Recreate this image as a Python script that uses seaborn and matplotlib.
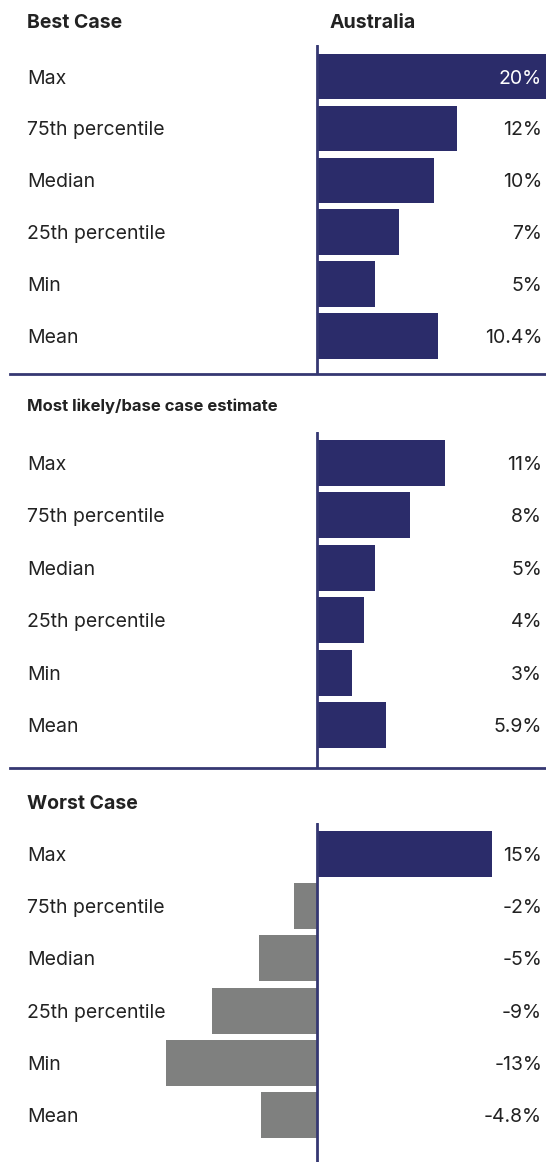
import matplotlib
matplotlib.use('Agg')
import matplotlib.pyplot as plt
import seaborn as sns
import pandas as pd

# Data
stats = ['Max', '75th percentile', 'Median', '25th percentile', 'Min', 'Mean']
best_case = [20, 12, 10, 7, 5, 10.4]
best_labels = ['20%', '12%', '10%', '7%', '5%', '10.4%']
base_case = [11, 8, 5, 4, 3, 5.9]
base_labels = ['11%', '8%', '5%', '4%', '3%', '5.9%']
worst_case = [15, -2, -5, -9, -13, -4.8]
worst_labels = ['15%', '-2%', '-5%', '-9%', '-13%', '-4.8%']

NAVY = '#2b2c6a'
GREY = '#7f807f'
TEXT = '#222222'

sns.set_style('white')
plt.rcParams['font.family'] = ['Inter', 'DejaVu Sans']

W, H = 546, 1162
fig = plt.figure(figsize=(W / 100, H / 100), dpi=100)

# pixel scale: one percentage point ~ 11.65 px, zero line at x=317
px_per_pct = 11.65
ax_left = 10
xmin = -(317 - ax_left) / px_per_pct
xmax = (W - 317) / px_per_pct

panels = [
    # values, labels, top px, bottom px, ylim, separator below
    (best_case, best_labels, 45, 374, (5.73, -0.607), True),
    (base_case, base_labels, 432, 768, (5.82, -0.59), True),
    (worst_case, worst_labels, 823, 1162, (5.9, -0.59), False),
]

for vals, labels, top, bottom, ylim, sep in panels:
    ax = fig.add_axes([ax_left / W, 1 - bottom / H, (W - ax_left) / W, (bottom - top) / H])
    df = pd.DataFrame({'stat': stats, 'value': vals})
    colors = [NAVY if v >= 0 else GREY for v in vals]
    sns.barplot(data=df, y='stat', x='value', hue='stat', palette=colors,
                orient='h', width=0.88, legend=False, ax=ax, saturation=1,
                linewidth=0)
    ax.set_xlim(xmin, xmax)
    ax.set_ylim(*ylim)
    ax.axvline(0, color='#353872', lw=2, zorder=5)
    for s in ['top', 'left', 'right']:
        ax.spines[s].set_visible(False)
    if sep:
        ax.spines['bottom'].set_color('#353872')
        ax.spines['bottom'].set_linewidth(2)
    else:
        ax.spines['bottom'].set_visible(False)
    ax.set_xticks([])
    ax.set_yticks([])
    ax.set_xlabel('')
    ax.set_ylabel('')
    trans = ax.get_yaxis_transform()
    for i, (name, lab, v) in enumerate(zip(stats, labels, vals)):
        ax.text((27 - ax_left) / (W - ax_left), i, name, transform=trans,
                ha='left', va='center_baseline', fontsize=14, color=TEXT)
        col = 'white' if v >= 19 else TEXT
        ax.text((542 - ax_left) / (W - ax_left), i, lab, transform=trans,
                ha='right', va='center_baseline', fontsize=14, color=col, zorder=6)

fig.text(27 / W, 1 - 21 / H, 'Best Case', ha='left', va='center_baseline',
         fontsize=14, fontweight='bold', color=TEXT)
fig.text(330 / W, 1 - 21 / H, 'Australia', ha='left', va='center_baseline',
         fontsize=14, fontweight='bold', color=TEXT)
fig.text(27 / W, 1 - 405 / H, 'Most likely/base case estimate', ha='left',
         va='center_baseline', fontsize=12, fontweight='bold', color=TEXT)
fig.text(27 / W, 1 - 802 / H, 'Worst Case', ha='left', va='center_baseline',
         fontsize=14, fontweight='bold', color=TEXT)

fig.savefig('out.png', dpi=100)
